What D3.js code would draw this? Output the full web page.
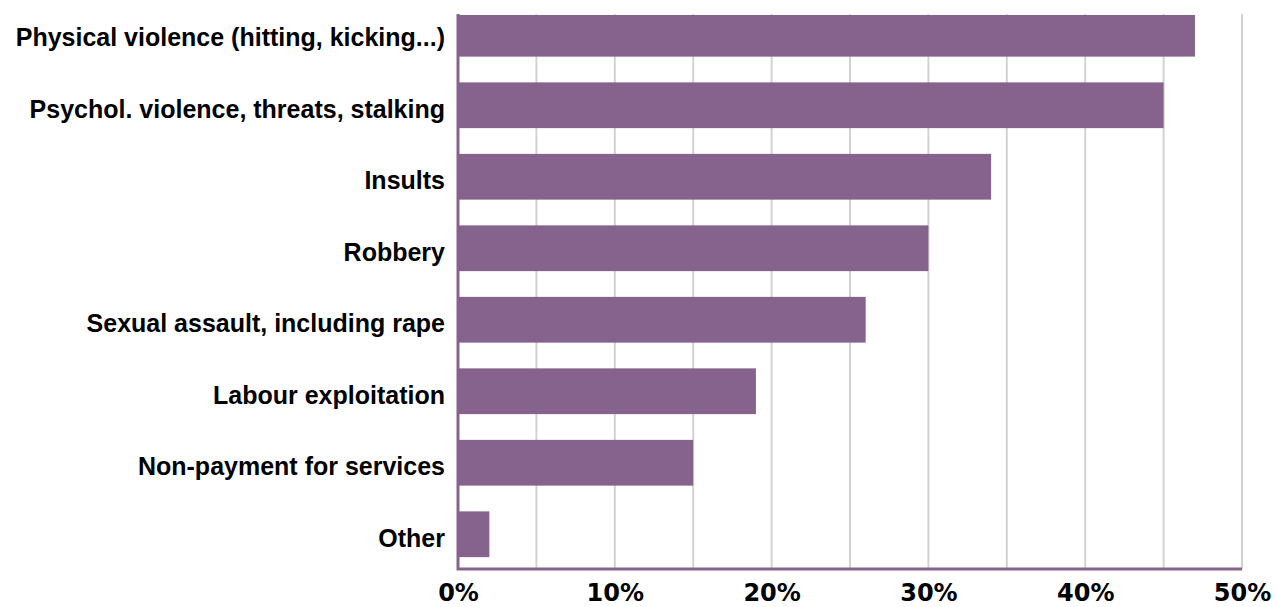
<!DOCTYPE html>
<html>
<head>
<meta charset="utf-8">
<script src="https://cdn.jsdelivr.net/npm/d3@7"></script>
<style>
    body { margin: 0; background: #fff; }
    .cat-label { font-family: "Liberation Sans", Arial, sans-serif; font-weight: bold; font-size: 25px; fill: #000; }
    .tick-label { font-family: "DejaVu Sans", sans-serif; font-weight: bold; font-size: 24px; fill: #000; }
</style>
</head>
<body>
<div id="chart"></div>
<script>
// Data
const categories = [
    "Physical violence (hitting, kicking...)",
    "Psychol. violence, threats, stalking",
    "Insults",
    "Robbery",
    "Sexual assault, including rape",
    "Labour exploitation",
    "Non-payment for services",
    "Other"
];
const shares = [0.47, 0.45, 0.34, 0.30, 0.26, 0.19, 0.15, 0.02];
const gridValues = [0.05, 0.10, 0.15, 0.20, 0.25, 0.30, 0.35, 0.40, 0.45, 0.50];
const tickValues = [0, 0.1, 0.2, 0.3, 0.4, 0.5];

const width = 1276;
const height = 607;
const plot = { left: 458, right: 1242, top: 14, bottom: 569 };
const barColor = "#85638c";

const svg = d3.select("#chart")
    .append("svg")
    .attr("width", width)
    .attr("height", height);

// Scales
const xScale = d3.scaleLinear()
    .domain([0, 0.5])
    .range([plot.left, plot.right]);

// bands run a little above the plot top, first bar gets clipped
const yScale = d3.scaleBand()
    .domain(categories)
    .range([-2, plot.bottom + 1])
    .paddingInner(0.36)
    .paddingOuter(0.18);

svg.append("clipPath")
    .attr("id", "plot-clip")
    .append("rect")
    .attr("x", 0)
    .attr("y", plot.top + 1)
    .attr("width", width)
    .attr("height", plot.bottom - plot.top);

/*************/
/* Gridlines */
/*************/
svg.append("g")
    .selectAll("line")
    .data(gridValues)
    .join("line")
    .attr("x1", d => xScale(d))
    .attr("x2", d => xScale(d))
    .attr("y1", plot.top)
    .attr("y2", plot.bottom)
    .attr("stroke", "#d2d2d2")
    .attr("stroke-width", 2);

/********/
/* Bars */
/********/
svg.append("g")
    .attr("clip-path", "url(#plot-clip)")
    .selectAll("rect")
    .data(shares)
    .join("rect")
    .attr("x", xScale(0))
    .attr("y", (d, i) => yScale(categories[i]))
    .attr("width", d => xScale(d) - xScale(0))
    .attr("height", yScale.bandwidth())
    .attr("fill", barColor);

/********/
/* Axes */
/********/
// axis lines drawn as one path so the corner joins
svg.append("path")
    .attr("d", `M${xScale(0)},${plot.top} V${plot.bottom} H${xScale(0.5)}`)
    .attr("fill", "none")
    .attr("stroke", barColor)
    .attr("stroke-width", 3);

// category labels
const leftAxis = d3.axisLeft(yScale).tickSize(0).tickPadding(13);
const yAxisGroup = svg.append("g")
    .attr("transform", `translate(${xScale(0)},0)`)
    .call(leftAxis);
yAxisGroup.select(".domain").remove();
yAxisGroup.selectAll("text")
    .attr("class", "cat-label")
    .attr("dy", "0.5em")
    .attr("font-size", null)
    .attr("font-family", null);

// percentage tick labels
const bottomAxis = d3.axisBottom(xScale)
    .tickValues(tickValues)
    .tickFormat(d3.format(".0%"))
    .tickSize(0)
    .tickPadding(32);
const xAxisGroup = svg.append("g")
    .attr("transform", `translate(0,${plot.bottom})`)
    .call(bottomAxis);
xAxisGroup.select(".domain").remove();
xAxisGroup.selectAll("text")
    .attr("class", "tick-label")
    .attr("dy", 0)
    .attr("font-size", null)
    .attr("font-family", null);
</script>
</body>
</html>
